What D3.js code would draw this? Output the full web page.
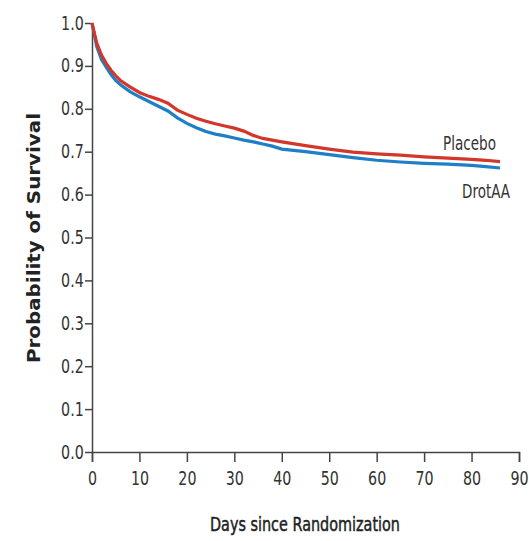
<!DOCTYPE html>
<html>
<head>
    <title>Kaplan-Meier Survival</title>
    <script src="https://d3js.org/d3.v7.min.js"></script>
    <style>
        body { margin: 0; background: #fff; }
        .axis path, .axis line { stroke: #444; stroke-width: 1.5; fill: none; }
        .narrow { font-family: "DejaVu Sans", sans-serif; }
        .axis text { font-family: "DejaVu Sans", sans-serif; font-size: 19px; fill: #333; }
    </style>
</head>
<body>
    <svg width="529" height="541"></svg>
    <script>
        // days at which survival was read
        const days = [0, 1, 2, 3, 4, 5, 6, 8, 10, 12, 14, 16, 18, 20, 22, 24, 26, 28, 30, 32, 34, 36, 38, 40, 45, 50, 55, 60, 65, 70, 75, 80, 83, 86];
        const placebo = [1.0, 0.953, 0.925, 0.906, 0.89, 0.877, 0.866, 0.851, 0.838, 0.829, 0.822, 0.813, 0.797, 0.787, 0.778, 0.771, 0.765, 0.76, 0.755, 0.748, 0.738, 0.731, 0.727, 0.723, 0.714, 0.706, 0.699, 0.695, 0.692, 0.688, 0.685, 0.682, 0.68, 0.677];
        const drotaa = [1.0, 0.945, 0.915, 0.897, 0.88, 0.866, 0.856, 0.84, 0.828, 0.817, 0.806, 0.795, 0.779, 0.766, 0.756, 0.747, 0.741, 0.737, 0.732, 0.727, 0.723, 0.718, 0.713, 0.706, 0.7, 0.693, 0.686, 0.68, 0.676, 0.673, 0.671, 0.668, 0.665, 0.662];
        const xTicks = [0, 10, 20, 30, 40, 50, 60, 70, 80, 90];
        const yTicks = [0, 0.1, 0.2, 0.3, 0.4, 0.5, 0.6, 0.7, 0.8, 0.9, 1.0];

        const svg = d3.select("svg");

        const x = d3.scaleLinear().domain([0, 90]).range([92, 519]);
        const y = d3.scaleLinear().domain([0, 1]).range([452, 23]);

        // axes (labels squeezed horizontally to mimic the condensed face)
        svg.append("g")
            .attr("class", "axis")
            .attr("transform", "translate(0,452)")
            .call(d3.axisBottom(x).tickValues(xTicks).tickSize(10).tickSizeOuter(10).tickPadding(10).tickFormat(d3.format("d")))
            .selectAll("text").attr("transform", "scale(0.75,1)");

        svg.append("g")
            .attr("class", "axis")
            .attr("transform", "translate(92,0)")
            .call(d3.axisLeft(y).tickValues(yTicks).tickSize(7).tickSizeOuter(0).tickPadding(4).tickFormat(d3.format(".1f")))
            .selectAll("text").attr("transform", "scale(0.75,1)");

        // curves
        const line = d3.line()
            .x((d, i) => x(days[i]))
            .y(d => y(d))
            .curve(d3.curveLinear);

        svg.append("path")
            .datum(drotaa)
            .attr("d", line)
            .attr("fill", "none")
            .attr("stroke", "#1f7fc6")
            .attr("stroke-width", 3.2);

        svg.append("path")
            .datum(placebo)
            .attr("d", line)
            .attr("fill", "none")
            .attr("stroke", "#d3362a")
            .attr("stroke-width", 3.2);

        // labels
        svg.append("text")
            .attr("class", "narrow")
            .attr("x", 443).attr("y", 150)
            .attr("textLength", 53).attr("lengthAdjust", "spacingAndGlyphs")
            .style("font-size", "19px").style("fill", "#333")
            .text("Placebo");

        svg.append("text")
            .attr("class", "narrow")
            .attr("x", 462).attr("y", 198)
            .attr("textLength", 48).attr("lengthAdjust", "spacingAndGlyphs")
            .style("font-size", "19px").style("fill", "#333")
            .text("DrotAA");

        svg.append("text")
            .attr("class", "narrow")
            .attr("x", 210).attr("y", 531)
            .attr("textLength", 190).attr("lengthAdjust", "spacingAndGlyphs")
            .style("font-size", "20px").style("fill", "#222")
            .style("stroke", "#222").style("stroke-width", 0.5)
            .text("Days since Randomization");

        svg.append("text")
            .attr("transform", "rotate(-90)")
            .attr("x", -363).attr("y", 40)
            .attr("textLength", 250).attr("lengthAdjust", "spacingAndGlyphs")
            .style("font-family", "'DejaVu Sans', sans-serif")
            .style("font-weight", "bold")
            .style("font-size", "18.5px").style("fill", "#222")
            .text("Probability of Survival");
    </script>
</body>
</html>
